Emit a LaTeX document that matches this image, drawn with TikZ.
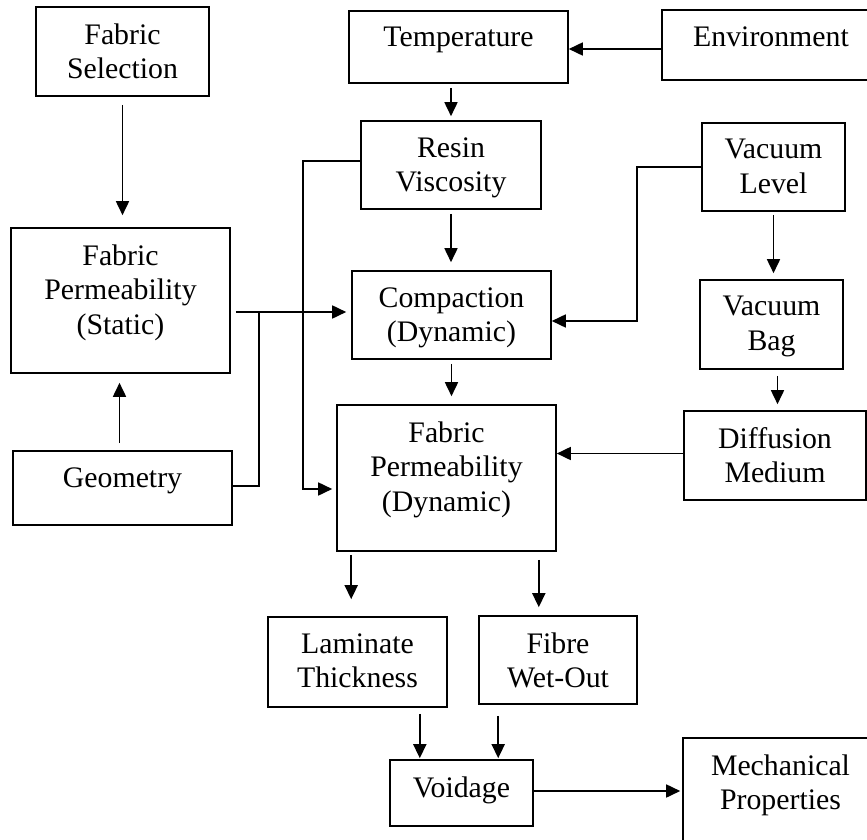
\documentclass[tikz,border=0pt]{standalone}
\usepackage{fontspec}
\setmainfont{Liberation Serif}
\usetikzlibrary{arrows.meta}

\begin{document}
\begin{tikzpicture}[x=1pt, y=-1pt,
    box/.style={draw, line width=1.6pt, inner sep=0pt},
    txt/.style={anchor=north, inner sep=0pt, yshift=-17pt, align=center,
        font=\fontsize{29.8}{34.5}\selectfont},
    arr/.style={-{Triangle[length=14pt, width=13pt]}, line width=1.7pt}
]
\useasboundingbox (0,0) rectangle (867,840);
\clip (0,0) rectangle (867,840);

% Top row
\node[box, minimum width=173pt, minimum height=89pt, label={[txt]north:Fabric\\Selection}] (fsel) at (122.5,51.5) {};
\node[box, minimum width=219pt, minimum height=72pt, label={[txt]north:Temperature}] (temp) at (458.5,47) {};
\node[box, minimum width=218pt, minimum height=70pt, label={[txt]north:Environment}] (env) at (771,45) {};

% Resin and vacuum
\node[box, minimum width=180pt, minimum height=88pt, label={[txt]north:Resin\\Viscosity}] (resin) at (451,165) {};
\node[box, minimum width=143pt, minimum height=88pt, label={[txt]north:Vacuum\\Level}] (vlev) at (773.5,167) {};

% Middle
\node[box, minimum width=219pt, minimum height=145pt, label={[txt]north:Fabric\\Permeability\\(Static)}] (fps) at (120.5,300.5) {};
\node[box, minimum width=199pt, minimum height=88pt, label={[txt]north:Compaction\\(Dynamic)}] (comp) at (451.5,315) {};
\node[box, minimum width=143pt, minimum height=89pt, label={[txt]north:Vacuum\\Bag}] (vbag) at (771.5,324.5) {};

\node[box, minimum width=219pt, minimum height=146pt, label={[txt]north:Fabric\\Permeability\\(Dynamic)}] (fpd) at (446.5,478) {};
\node[box, minimum width=182pt, minimum height=89pt, label={[txt]north:Diffusion\\Medium}] (diff) at (775,455.5) {};
\node[box, minimum width=219pt, minimum height=74pt, label={[txt]north:Geometry}] (geom) at (122.5,488) {};

% Outcomes
\node[box, minimum width=179pt, minimum height=90pt, label={[txt]north:Laminate\\Thickness}] (lam) at (357.5,662) {};
\node[box, minimum width=158pt, minimum height=88pt, label={[txt]north:Fibre\\Wet-Out}] (fib) at (558,660) {};
\node[box, minimum width=143pt, minimum height=66pt, label={[txt]north:Voidage}] (void) at (461.5,793) {};
\node[box, minimum width=195pt, minimum height=122pt, label={[txt]north:Mechanical\\Properties}] (mech) at (780.5,799) {};

% Junctions
\coordinate (jr) at (303,489);
\coordinate (jv) at (637,321);
\coordinate (jg) at (259,312);

% Connectors
\draw[arr, shorten <=8pt, shorten >=12pt] (fsel.south) -- (fsel.south |- fps.north);
\draw[arr] (env.west) ++(0,4) -- (temp.east |- 0,49);
\draw[arr, shorten <=4pt, shorten >=4pt] (temp.south -| resin.north) -- (resin.north);
\draw[arr, shorten <=4pt, shorten >=8pt] (resin.south) -- (resin.south |- comp.north);
\draw[arr, shorten <=4pt, shorten >=8pt] (comp.south) -- (comp.south |- fpd.north);
\draw[arr, shorten >=4pt] ([yshift=4pt]resin.west) -| (jr) -- (fpd.west |- jr);
\draw[arr] (vlev.west) -| (jv) -- (comp.east |- jv);
\draw[arr, shorten <=3pt, shorten >=6pt] (vlev.south) -- (vlev.south |- vbag.north);
\draw[arr, shorten <=6pt, shorten >=6pt] ([xshift=6pt]vbag.south) -- ([xshift=6pt]vbag.south |- diff.north);
\draw[arr] ([yshift=2pt]diff.west) -- ([yshift=2pt]diff.west -| fpd.east);
\draw[arr, shorten <=5pt, shorten >=5pt] (fps.east |- jg) -- (comp.west |- jg);
\draw[line width=1.7pt] ([yshift=2pt]geom.east) -| (jg);
\draw[arr, shorten <=7pt, shorten >=9pt] ([xshift=-3pt]geom.north) -- ([xshift=-3pt]geom.north |- fps.south);
\draw[arr, shorten <=3pt, shorten >=17pt] ([xshift=15pt]fpd.south west) -- ([xshift=15pt]fpd.south west |- lam.north);
\draw[arr, shorten <=8pt, shorten >=8pt] ([xshift=-18pt]fpd.south east) -- ([xshift=-18pt]fpd.south east |- fib.north);
\draw[arr, shorten <=6pt, shorten >=1pt] ([xshift=-28pt]lam.south east) -- ([xshift=-28pt]lam.south east |- void.north);
\draw[arr, shorten <=11pt, shorten >=1pt] ([xshift=20pt]fib.south west) -- ([xshift=20pt]fib.south west |- void.north);
\draw[arr, shorten >=2pt] ([yshift=2pt]void.east) -- ([yshift=2pt]void.east -| mech.west);

\end{tikzpicture}
\end{document}
